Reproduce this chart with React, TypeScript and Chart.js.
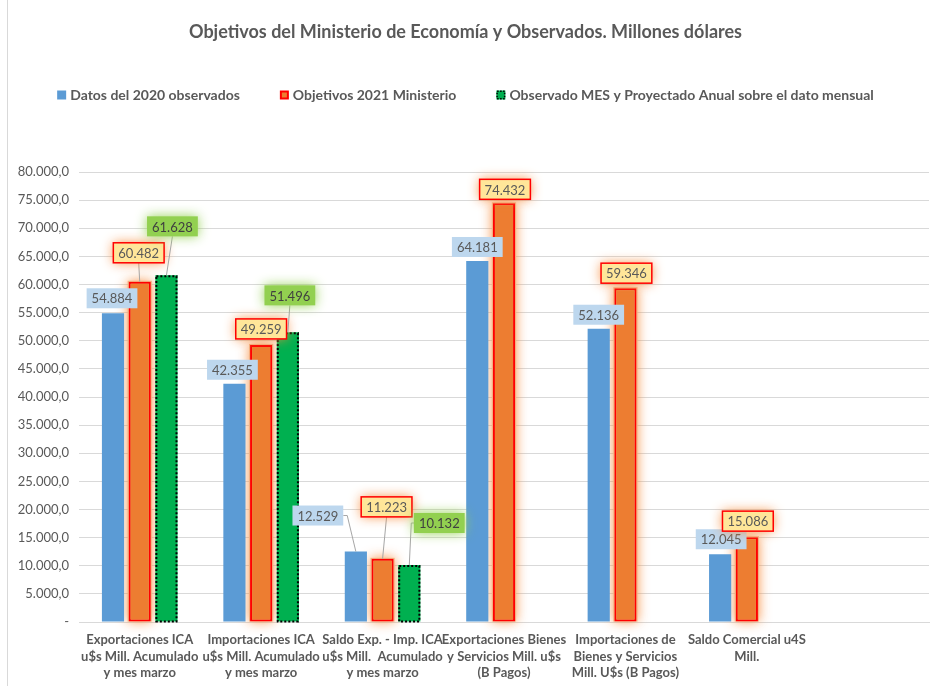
import React, { useEffect, useRef } from 'react';
import { Chart, registerables } from 'chart.js';

Chart.register(...registerables);

const titleText = 'Objetivos del Ministerio de Economía y Observados. Millones dólares';

const categories: (string | string[])[] = [
  ['Exportaciones ICA', 'u$s Mill. Acumulado', 'y mes marzo'],
  ['Importaciones ICA', 'u$s Mill. Acumulado', 'y mes marzo'],
  ['Saldo Exp. - Imp. ICA', 'u$s Mill.  Acumulado', 'y mes marzo'],
  ['Exportaciones Bienes', 'y Servicios Mill. u$s', '(B Pagos)'],
  ['Importaciones de', 'Bienes y Servicios', 'Mill. U$s (B Pagos)'],
  ['Saldo Comercial u4S', 'Mill.'],
  '',
];

const seriesNames = [
  'Datos del 2020 observados',
  'Objetivos 2021 Ministerio',
  'Observado MES y Proyectado Anual sobre el dato mensual',
];

const datos2020 = [54884, 42355, 12529, 64181, 52136, 12045, null];
const objetivos2021 = [60482, 49259, 11223, 74432, 59346, 15086, null];
const observadoMes = [61628, 51496, 10132, null, null, null, null];

const yMin = 0;
const yMax = 80000;
const yStep = 5000;

// label box centre offsets relative to bar top centre (px)
const labelOffsets: (number[] | null)[][] = [
  [[-1, -15], [-2, -14], [-38, -36], [0, -14], [0, -14], [1, -15], null],
  [[-1, -29], [0, -16], [4, -52], [1, -14], [1, -15], [1, -16], null],
  [[6, -49], [2, -37], [30, -42], null, null, null, null],
];

const FONT = 'Lato, "Open Sans", sans-serif';
const GREY = '#595959';

const fmtThousands = (v: number) =>
  Math.round(v).toString().replace(/\B(?=(\d{3})+(?!\d))/g, '.');

const fmtTick = (v: number) => (v === 0 ? '-' : fmtThousands(v) + ',0');

const labelStyles = [
  { fill: '#BDD7EE', border: null as string | null, glow: null as string | null, text: '#595959' },
  { fill: '#FFE699', border: '#FF0000', glow: 'rgba(247,140,60,0.95)', text: '#595959' },
  { fill: '#92D050', border: null, glow: 'rgba(146,208,80,0.95)', text: '#404040' },
];

function drawMarker(ctx: CanvasRenderingContext2D, i: number, x: number, y: number, s: number) {
  ctx.save();
  if (i === 0) {
    ctx.fillStyle = '#5B9BD5';
    ctx.fillRect(x, y, s, s);
  } else if (i === 1) {
    ctx.fillStyle = '#FF0000';
    ctx.fillRect(x, y, s, s);
    ctx.fillStyle = '#ED7D31';
    ctx.fillRect(x + 2, y + 2, s - 4, s - 4);
  } else {
    ctx.fillStyle = '#00B050';
    ctx.fillRect(x, y, s, s);
    ctx.strokeStyle = '#000';
    ctx.lineWidth = 1.5;
    ctx.setLineDash([1.5, 1.5]);
    ctx.strokeRect(x + 0.75, y + 0.75, s - 1.5, s - 1.5);
  }
  ctx.restore();
}

const customPlugin = {
  id: 'custom',
  beforeDraw(chart: any) {
    const ctx: CanvasRenderingContext2D = chart.ctx;
    ctx.save();
    ctx.fillStyle = '#fff';
    ctx.fillRect(0, 0, chart.width, chart.height);
    ctx.strokeStyle = '#D9D9D9';
    ctx.lineWidth = 1;
    ctx.beginPath();
    ctx.moveTo(7.5, 0);
    ctx.lineTo(7.5, chart.height);
    ctx.stroke();
    // title
    ctx.fillStyle = GREY;
    ctx.font = `bold 18px ${FONT}`;
    ctx.textAlign = 'center';
    ctx.textBaseline = 'middle';
    ctx.fillText(titleText, chart.width / 2, 32);
    // legend
    ctx.font = `bold 14px ${FONT}`;
    const marker = 9;
    const gapM = 4;
    const gapItem = 40;
    const widths = seriesNames.map((n) => marker + gapM + ctx.measureText(n).width);
    const total = widths.reduce((a, b) => a + b, 0) + gapItem * (widths.length - 1);
    let x = chart.width / 2 - total / 2;
    const ly = 95;
    ctx.textAlign = 'left';
    seriesNames.forEach((n, i) => {
      drawMarker(ctx, i, x, ly - marker / 2, marker);
      ctx.fillStyle = GREY;
      ctx.fillText(n, x + marker + gapM, ly);
      x += widths[i] + gapItem;
    });
    ctx.restore();
  },
  beforeDatasetsDraw(chart: any) {
    const ctx: CanvasRenderingContext2D = chart.ctx;
    const meta = chart.getDatasetMeta(1);
    ctx.save();
    meta.data.forEach((el: any, i: number) => {
      if (objetivos2021[i] == null) return;
      const p = el.getProps(['x', 'y', 'base', 'width'], true);
      ctx.shadowColor = 'rgba(247,140,60,0.9)';
      ctx.shadowBlur = 12;
      ctx.fillStyle = '#F4B183';
      ctx.fillRect(p.x - p.width / 2 - 1, p.y - 1, p.width + 2, p.base - p.y + 1);
    });
    ctx.restore();
  },
  afterDatasetsDraw(chart: any) {
    const ctx: CanvasRenderingContext2D = chart.ctx;
    // dotted border on green bars
    const gmeta = chart.getDatasetMeta(2);
    ctx.save();
    ctx.strokeStyle = '#000';
    ctx.lineWidth = 2;
    ctx.setLineDash([2, 2]);
    gmeta.data.forEach((el: any, i: number) => {
      if (observadoMes[i] == null) return;
      const p = el.getProps(['x', 'y', 'base', 'width'], true);
      ctx.strokeRect(p.x - p.width / 2 + 1, p.y + 1, p.width - 2, p.base - p.y - 1);
    });
    ctx.restore();

    // data labels
    const all = [datos2020, objetivos2021, observadoMes];
    ctx.save();
    ctx.font = `13px ${FONT}`;
    ctx.textAlign = 'center';
    ctx.textBaseline = 'middle';
    all.forEach((arr, d) => {
      const meta = chart.getDatasetMeta(d);
      const st = labelStyles[d];
      arr.forEach((v, i) => {
        if (v == null) return;
        const off = labelOffsets[d][i];
        if (!off) return;
        const p = meta.data[i].getProps(['x', 'y'], true);
        const txt = fmtThousands(v);
        const w = ctx.measureText(txt).width + 10;
        const h = 20;
        const cx = p.x + off[0];
        const cy = p.y + off[1];
        const left = cx - w / 2;
        const top = cy - h / 2;
        // leader line
        const gap = p.y - (top + h);
        if (gap > 6) {
          ctx.save();
          ctx.strokeStyle = '#A6A6A6';
          ctx.lineWidth = 1;
          ctx.beginPath();
          if (off[0] < -w / 2) {
            ctx.moveTo(left + w, cy);
            ctx.lineTo(left + w + 4, cy);
            ctx.lineTo(p.x, p.y);
          } else if (off[0] > w / 2) {
            ctx.moveTo(left, cy);
            ctx.lineTo(p.x + 2, cy);
            ctx.lineTo(p.x, p.y);
          } else {
            ctx.moveTo(cx, top + h);
            ctx.lineTo(p.x, p.y);
          }
          ctx.stroke();
          ctx.restore();
        }
        ctx.save();
        if (st.glow) {
          ctx.shadowColor = st.glow;
          ctx.shadowBlur = 12;
        }
        ctx.fillStyle = st.fill;
        ctx.fillRect(left, top, w, h);
        ctx.restore();
        if (st.border) {
          ctx.save();
          ctx.strokeStyle = st.border;
          ctx.lineWidth = 1.5;
          ctx.strokeRect(left, top, w, h);
          ctx.restore();
        }
        ctx.fillStyle = st.text;
        ctx.fillText(txt, cx, cy + 1);
      });
    });
    ctx.restore();
  },
};

export default function App() {
  const ref = useRef<HTMLCanvasElement>(null);
  useEffect(() => {
    document.body.style.margin = '0';
    const canvas = ref.current!;
    const chart = new Chart(canvas, {
      type: 'bar',
      data: {
        labels: categories as any,
        datasets: [
          {
            label: seriesNames[0],
            data: datos2020,
            backgroundColor: '#5B9BD5',
            borderWidth: 0,
          },
          {
            label: seriesNames[1],
            data: objetivos2021,
            backgroundColor: '#ED7D31',
            borderColor: '#FF0000',
            borderWidth: 2,
            borderSkipped: false,
          },
          {
            label: seriesNames[2],
            data: observadoMes,
            backgroundColor: '#00B050',
            borderWidth: 0,
          },
        ] as any,
      },
      options: {
        animation: false,
        responsive: false,
        maintainAspectRatio: false,
        datasets: { bar: { categoryPercentage: 0.66, barPercentage: 0.83 } },
        layout: { padding: { top: 172, left: 0, right: 2, bottom: 0 } },
        plugins: {
          legend: { display: false },
          title: { display: false },
          tooltip: { enabled: false },
        },
        scales: {
          x: {
            grid: { display: false },
            border: { display: true, color: '#D9D9D9' },
            ticks: {
              color: GREY,
              font: { family: FONT, size: 13, weight: 'bold', lineHeight: 1.3 },
              maxRotation: 0,
              minRotation: 0,
              autoSkip: false,
              padding: 1,
            },
            afterFit: (s: any) => {
              s.height = 64;
            },
          },
          y: {
            min: yMin,
            max: yMax,
            grid: { color: '#D9D9D9', drawTicks: false },
            border: { display: false },
            ticks: {
              stepSize: yStep,
              color: GREY,
              font: { family: FONT, size: 13 },
              padding: 10,
              callback: (v: any) => fmtTick(Number(v)),
            },
            afterFit: (s: any) => {
              s.width = 79;
            },
          },
        },
      } as any,
      plugins: [customPlugin],
    });
    return () => chart.destroy();
  }, []);
  return (
    <div style={{ width: 931, height: 686, position: 'relative' }}>
      <canvas ref={ref} width={931} height={686} />
    </div>
  );
}
